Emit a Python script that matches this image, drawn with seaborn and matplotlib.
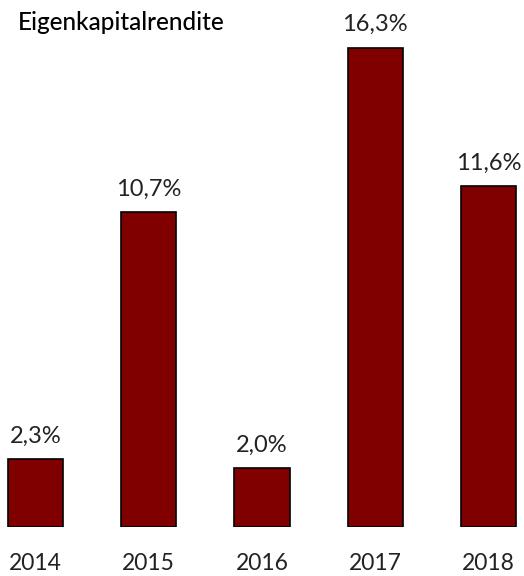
import matplotlib
matplotlib.use("Agg")
import matplotlib.pyplot as plt
import seaborn as sns
import pandas as pd

years = ["2014", "2015", "2016", "2017", "2018"]
roe = [2.3, 10.7, 2.0, 16.3, 11.6]
title = "Eigenkapitalrendite"

sns.set_theme(style="white")
plt.rcParams["font.family"] = ["Lato", "DejaVu Sans"]

df = pd.DataFrame({"Jahr": years, "Rendite": roe})

fig = plt.figure(figsize=(5.24, 5.76), dpi=100)
ax = fig.add_axes([0, 49 / 576, 1, 527 / 576])

sns.barplot(data=df, x="Jahr", y="Rendite", color="#800000", saturation=1,
            edgecolor="black", linewidth=1.2, width=0.486, ax=ax)

for i, v in enumerate(roe):
    ax.annotate(f"{v:.1f}".replace(".", ",") + "%", (i, v),
                xytext=(0, 9), textcoords="offset points",
                ha="center", va="bottom", fontsize=17, color="#222222")

ax.set_xlim(-0.313, 4.313)
ax.set_ylim(0, 527 / 29.4)
ax.set_xlabel("")
ax.set_ylabel("")
ax.set_yticks([])
ax.tick_params(axis="x", length=0, pad=19, labelsize=16.5, labelcolor="#222222")
for s in ax.spines.values():
    s.set_visible(False)

fig.text(18 / 524, 1 - 22 / 576, title, ha="left", va="center",
         fontsize=17.5, fontweight="medium", color="black")

fig.savefig("out.png", dpi=100)
